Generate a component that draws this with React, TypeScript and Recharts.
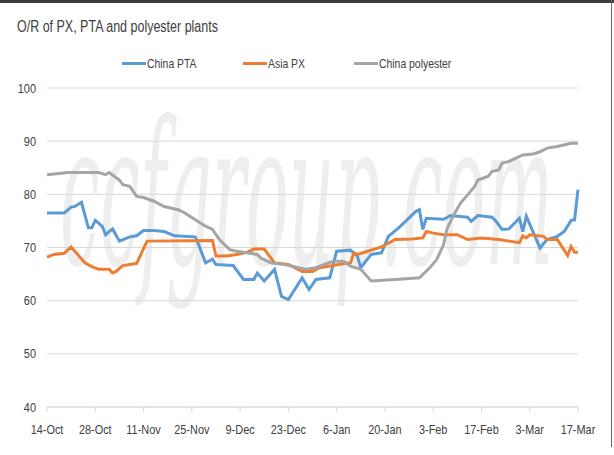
import React from 'react';
import { LineChart, Line, XAxis, YAxis, CartesianGrid } from 'recharts';

const tickDays = [0, 14, 28, 42, 56, 70, 84, 98, 112, 126, 140, 154];
const tickLabels = ['14-Oct', '28-Oct', '11-Nov', '25-Nov', '9-Dec', '23-Dec', '6-Jan', '20-Jan', '3-Feb', '17-Feb', '3-Mar', '17-Mar'];
const yTicks = [40, 50, 60, 70, 80, 90, 100];

const seriesNames = ['China PTA', 'Asia PX', 'China polyester'];
const seriesColors = ['#5B9BD5', '#ED7D31', '#A5A5A5'];

const ptaDays = [0, 5, 7, 8, 10, 12, 13, 14, 16, 17, 19, 21, 24, 26, 28, 31, 34, 37, 43, 44, 46, 48, 49, 54, 57, 60, 61, 63, 66, 68, 70, 74, 76, 78, 82, 84, 88, 90, 91, 94, 97, 99, 102, 107, 108, 109, 110, 115, 117, 122, 123, 125, 129, 130, 132, 134, 137, 138, 139, 143, 145, 148, 150, 152, 153, 154];
const ptaValues = [76.5, 76.5, 77.6, 77.7, 78.5, 73.7, 73.7, 75.1, 74.0, 72.4, 73.5, 71.2, 72.0, 72.2, 73.2, 73.2, 73.0, 72.2, 72.0, 70.5, 67.1, 67.8, 66.8, 66.6, 64.0, 64.0, 65.2, 63.7, 65.9, 60.8, 60.2, 64.3, 62.1, 64.0, 64.3, 69.3, 69.5, 68.4, 66.2, 68.7, 69.0, 72.1, 73.7, 76.8, 77.1, 73.4, 75.5, 75.3, 76.0, 75.7, 74.9, 76.0, 75.7, 75.1, 73.4, 73.5, 75.5, 73.0, 75.9, 69.9, 71.5, 72.1, 73.0, 75.1, 75.2, 80.9];

const pxDays = [0, 2, 5, 7, 11, 13, 15, 18, 19, 20, 22, 24, 26, 29, 48, 49, 52, 55, 58, 60, 63, 66, 70, 74, 77, 79, 83, 87, 88, 89, 90, 93, 97, 101, 106, 109, 110, 112, 115, 119, 122, 126, 131, 134, 137, 138, 139, 140, 144, 145, 148, 151, 152, 153, 154];
const pxValues = [68.2, 68.7, 68.9, 70.1, 67.1, 66.4, 65.9, 65.9, 65.2, 65.5, 66.6, 66.8, 67.0, 71.2, 71.3, 68.4, 68.4, 68.7, 69.1, 69.7, 69.7, 67.1, 66.8, 65.5, 65.5, 66.2, 66.6, 67.1, 67.1, 69.0, 68.7, 69.3, 70.1, 71.5, 71.6, 71.8, 73.0, 72.7, 72.4, 72.4, 71.5, 71.8, 71.5, 71.2, 70.9, 72.2, 71.8, 72.4, 72.1, 71.5, 71.5, 68.5, 70.2, 69.1, 69.1];

const polyDays = [0, 6, 15, 17, 18, 21, 22, 24, 26, 28, 31, 34, 38, 40, 43, 46, 48, 50, 53, 55, 58, 61, 62, 65, 69, 73, 75, 78, 79, 83, 86, 88, 91, 94, 101, 108, 111, 113, 115, 116, 118, 120, 122, 124, 125, 128, 129, 131, 132, 134, 136, 138, 141, 143, 145, 148, 152, 154];
const polyValues = [83.7, 84.1, 84.1, 83.7, 84.1, 82.7, 81.8, 81.5, 79.6, 79.4, 78.7, 77.7, 77.1, 76.5, 75.2, 74.0, 73.4, 71.5, 69.6, 69.3, 69.0, 68.7, 68.0, 67.1, 66.8, 66.2, 65.9, 66.2, 66.5, 67.4, 67.4, 66.5, 65.9, 63.7, 64.0, 64.3, 66.2, 67.7, 70.5, 73.5, 76.2, 78.4, 79.9, 81.5, 82.7, 83.4, 84.3, 84.6, 85.9, 86.2, 86.8, 87.4, 87.6, 88.0, 88.7, 89.0, 89.6, 89.6];

const toRows = (days: number[], values: number[]) => days.map((d, i) => ({ day: d, value: values[i] }));
const ptaData = toRows(ptaDays, ptaValues);
const pxData = toRows(pxDays, pxValues);
const polyData = toRows(polyDays, polyValues);

const FONT = "'Liberation Sans', Arial, sans-serif";
const TEXT = '#404040';
const SQUEEZE = 0.84;

const XTick = (props: any) => {
  const { x, y, payload } = props;
  return (
    <g transform={`translate(${x},${y}) scale(${SQUEEZE},1)`}>
      <text x={0} y={0} dy="0.71em" textAnchor="middle" fill={TEXT} fontSize={13} fontFamily={FONT}>
        {tickLabels[tickDays.indexOf(payload.value)] ?? ''}
      </text>
    </g>
  );
};

const YTick = (props: any) => {
  const { x, y, payload } = props;
  return (
    <g transform={`translate(${x},${y}) scale(${SQUEEZE},1)`}>
      <text x={0} y={0} dy="0.355em" textAnchor="end" fill={TEXT} fontSize={13} fontFamily={FONT}>
        {payload.value}
      </text>
    </g>
  );
};

const legendLeft = [122, 243, 354];

export default function App() {
  return (
    <div style={{ position: 'absolute', left: 0, top: 0, width: 614, height: 455, background: '#fff', overflow: 'hidden' }}>
      <div style={{ position: 'absolute', left: 0, top: 0, width: 614, height: 3, background: '#3c3c3c' }} />
      <div style={{ position: 'absolute', left: 611, top: 0, width: 1, height: 447, background: '#6a6a6a' }} />
      <div style={{ position: 'absolute', left: 60, top: 78, fontFamily: "'DejaVu Serif', serif", fontStyle: 'italic', fontSize: 200, lineHeight: '233px', color: '#eeeeee', transform: 'scaleX(0.356)', transformOrigin: '0 0', whiteSpace: 'nowrap' }}>ccfgroup.com</div>
      <div style={{ position: 'absolute', left: 17, top: 18, fontFamily: FONT, fontSize: 16, color: TEXT, whiteSpace: 'nowrap', transform: 'scaleX(0.78)', transformOrigin: '0 0' }}>O/R of PX, PTA and polyester plants</div>
      {seriesNames.map((n, i) => (
        <div key={n} style={{ position: 'absolute', left: legendLeft[i], top: 55, height: 16, display: 'flex', alignItems: 'center', whiteSpace: 'nowrap' }}>
          <span style={{ display: 'inline-block', width: 24, height: 3, background: seriesColors[i] }} />
          <span style={{ display: 'inline-block', fontFamily: FONT, fontSize: 13, color: TEXT, transform: 'scaleX(0.8)', transformOrigin: '0 50%', marginLeft: 1 }}>{n}</span>
        </div>
      ))}
      <div style={{ position: 'absolute', left: 0, top: 0 }}>
        <LineChart width={614} height={455} margin={{ top: 88, right: 36, bottom: 18, left: 0 }}>
          <CartesianGrid vertical={false} stroke="#d9d9d9" strokeWidth={1} />
          <XAxis
            type="number"
            dataKey="day"
            domain={[0, 154]}
            ticks={tickDays}
            interval={0}
            height={30}
            stroke="#d9d9d9"
            tickSize={5}
            tickMargin={13}
            tick={<XTick />}
            allowDuplicatedCategory={false}
          />
          <YAxis
            type="number"
            domain={[40, 100]}
            ticks={yTicks}
            interval={0}
            width={47}
            axisLine={false}
            tickLine={false}
            tickSize={6}
            tickMargin={5}
            tick={<YTick />}
          />
          <Line data={ptaData} dataKey="value" name={seriesNames[0]} type="linear" stroke={seriesColors[0]} strokeWidth={3} dot={false} activeDot={false} isAnimationActive={false} />
          <Line data={pxData} dataKey="value" name={seriesNames[1]} type="linear" stroke={seriesColors[1]} strokeWidth={3} dot={false} activeDot={false} isAnimationActive={false} />
          <Line data={polyData} dataKey="value" name={seriesNames[2]} type="linear" stroke={seriesColors[2]} strokeWidth={3} dot={false} activeDot={false} isAnimationActive={false} />
        </LineChart>
      </div>
    </div>
  );
}
